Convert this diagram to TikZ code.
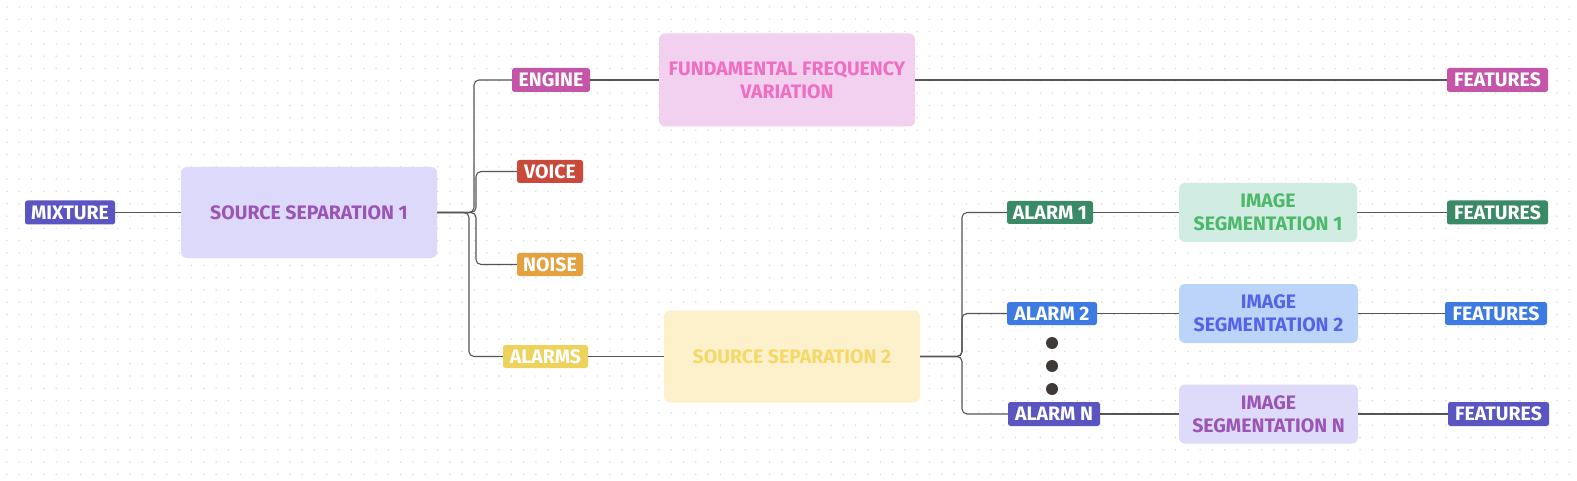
\documentclass[tikz,border=0pt]{standalone}
\usepackage{fontspec}
\setmainfont{Fira Sans}
\definecolor{linegray}{HTML}{555555}
\definecolor{gridgray}{HTML}{DADADA}
\definecolor{indigo}{HTML}{5A55C0}
\definecolor{pinkdark}{HTML}{C455A8}
\definecolor{redtag}{HTML}{C9493B}
\definecolor{orangetag}{HTML}{E3A23F}
\definecolor{yellowtag}{HTML}{EDD35B}
\definecolor{greentag}{HTML}{3A8A68}
\definecolor{bluetag}{HTML}{3D7BE3}
\definecolor{ssonefill}{HTML}{DDD9FA}
\definecolor{purpletext}{HTML}{9B55B5}
\definecolor{ffvfill}{HTML}{F2D0F0}
\definecolor{ffvtext}{HTML}{EE6EC0}
\definecolor{sstwofill}{HTML}{FCF1CB}
\definecolor{sstwotext}{HTML}{F5D869}
\definecolor{isonefill}{HTML}{D1EDE3}
\definecolor{isonetext}{HTML}{4DB86A}
\definecolor{istwofill}{HTML}{BCD4F9}
\definecolor{istwotext}{HTML}{5563E8}
\definecolor{isnfill}{HTML}{DEDAFA}
\definecolor{dotcol}{HTML}{3F3A38}
\begin{document}
\begin{tikzpicture}[x=1pt,y=-1pt,
  tag/.style={rounded corners=2.5, text=white, font=\bfseries\fontsize{19.5}{22}\selectfont, inner sep=0pt, anchor=center},
  bigbox/.style={rounded corners=6, font=\bfseries\fontsize{19.5}{23}\selectfont, align=center, inner sep=0pt, anchor=center},
  sz/.style 2 args={minimum width=#1, minimum height=#2},
  conn/.style={draw=linegray, line width=1.1pt, rounded corners=5},
  dotmark/.style={circle, fill=dotcol, inner sep=0pt, minimum size=12pt}]
\useasboundingbox (0,0) rectangle (1577,481);
\fill[white] (0,0) rectangle (1577,481);
\foreach \i in {0,...,127} \foreach \j in {0,...,38} {\fill[gridgray] (7+\i*12.3,7+\j*12.3) circle (0.8);}
% nodes
\node[tag, sz={90}{24}, fill=indigo] (mix) at (70,212.5) {MIXTURE};
\node[bigbox, sz={256}{91}, fill=ssonefill, text=purpletext] (ss1) at (309,212.5) {SOURCE SEPARATION 1};
\node[tag, sz={78}{24}, fill=pinkdark] (engine) at (551,80) {ENGINE};
\node[tag, sz={66}{23}, fill=redtag] (voice) at (550,171.5) {VOICE};
\node[tag, sz={66}{23}, fill=orangetag] (noise) at (550,264.5) {NOISE};
\node[tag, sz={85}{23}, fill=yellowtag] (alarms) at (545.5,356.5) {ALARMS};
\node[bigbox, sz={256}{93}, fill=ffvfill, text=ffvtext] (ffv) at (787,80) {FUNDAMENTAL FREQUENCY\\VARIATION};
\node[bigbox, sz={256}{92}, fill=sstwofill, text=sstwotext] (ss2) at (792,356.5) {SOURCE SEPARATION 2};
\node[tag, sz={86}{23}, fill=greentag] (a1) at (1050,212.5) {ALARM 1};
\node[tag, sz={90}{23}, fill=bluetag] (a2) at (1052,313.5) {ALARM 2};
\node[tag, sz={92}{24}, fill=indigo] (an) at (1054,414) {ALARM N};
\node[bigbox, sz={178}{59}, fill=isonefill, text=isonetext] (is1) at (1268,212.5) {IMAGE\\SEGMENTATION 1};
\node[bigbox, sz={179}{59}, fill=istwofill, text=istwotext] (is2) at (1268.5,313.5) {IMAGE\\SEGMENTATION 2};
\node[bigbox, sz={179}{59}, fill=isnfill, text=purpletext] (isn) at (1268.5,414) {IMAGE\\SEGMENTATION N};
\node[tag, sz={101}{24}, fill=pinkdark] (f1) at (1497.5,80) {FEATURES};
\node[tag, sz={101}{24}, fill=greentag] (f2) at (1497.5,212.5) {FEATURES};
\node[tag, sz={102}{23}, fill=bluetag] (f3) at (1496,313.5) {FEATURES};
\node[tag, sz={101}{24}, fill=indigo] (f4) at (1498.5,414) {FEATURES};
\node[dotmark] (d1) at (1052,343) {};
\node[dotmark] (d2) at (1052,366) {};
\node[dotmark] (d3) at (1052,389) {};
% junction columns
\coordinate (ja) at (474,0);
\coordinate (jb) at (476,0);
\coordinate (jc) at (469,0);
\coordinate (jd) at (962,0);
% connectors
\draw[conn] (mix.east) -- (ss1.west);
\draw[conn] (ss1.east) -- (ss1.east -| ja) |- (engine.west);
\draw[conn] (ss1.east) -- (ss1.east -| jb) |- (voice.west);
\draw[conn] (ss1.east) -- (ss1.east -| jb) |- (noise.west);
\draw[conn] (ss1.east) -- (ss1.east -| jc) |- (alarms.west);
\draw[conn] (engine.east) -- (engine.east -| ffv.west);
\draw[conn] (ffv.east) -- (ffv.east -| f1.west);
\draw[conn] (alarms.east) -- (alarms.east -| ss2.west);
\draw[conn] (ss2.east) -- (ss2.east -| jd) |- (a1.west);
\draw[conn] (ss2.east) -- (ss2.east -| jd) |- (a2.west);
\draw[conn] (ss2.east) -- (ss2.east -| jd) |- (an.west);
\draw[conn] (a1.east) -- (a1.east -| is1.west);
\draw[conn] (a2.east) -- (a2.east -| is2.west);
\draw[conn] (an.east) -- (an.east -| isn.west);
\draw[conn] (is1.east) -- (is1.east -| f2.west);
\draw[conn] (is2.east) -- (is2.east -| f3.west);
\draw[conn] (isn.east) -- (isn.east -| f4.west);
\end{tikzpicture}
\end{document}
